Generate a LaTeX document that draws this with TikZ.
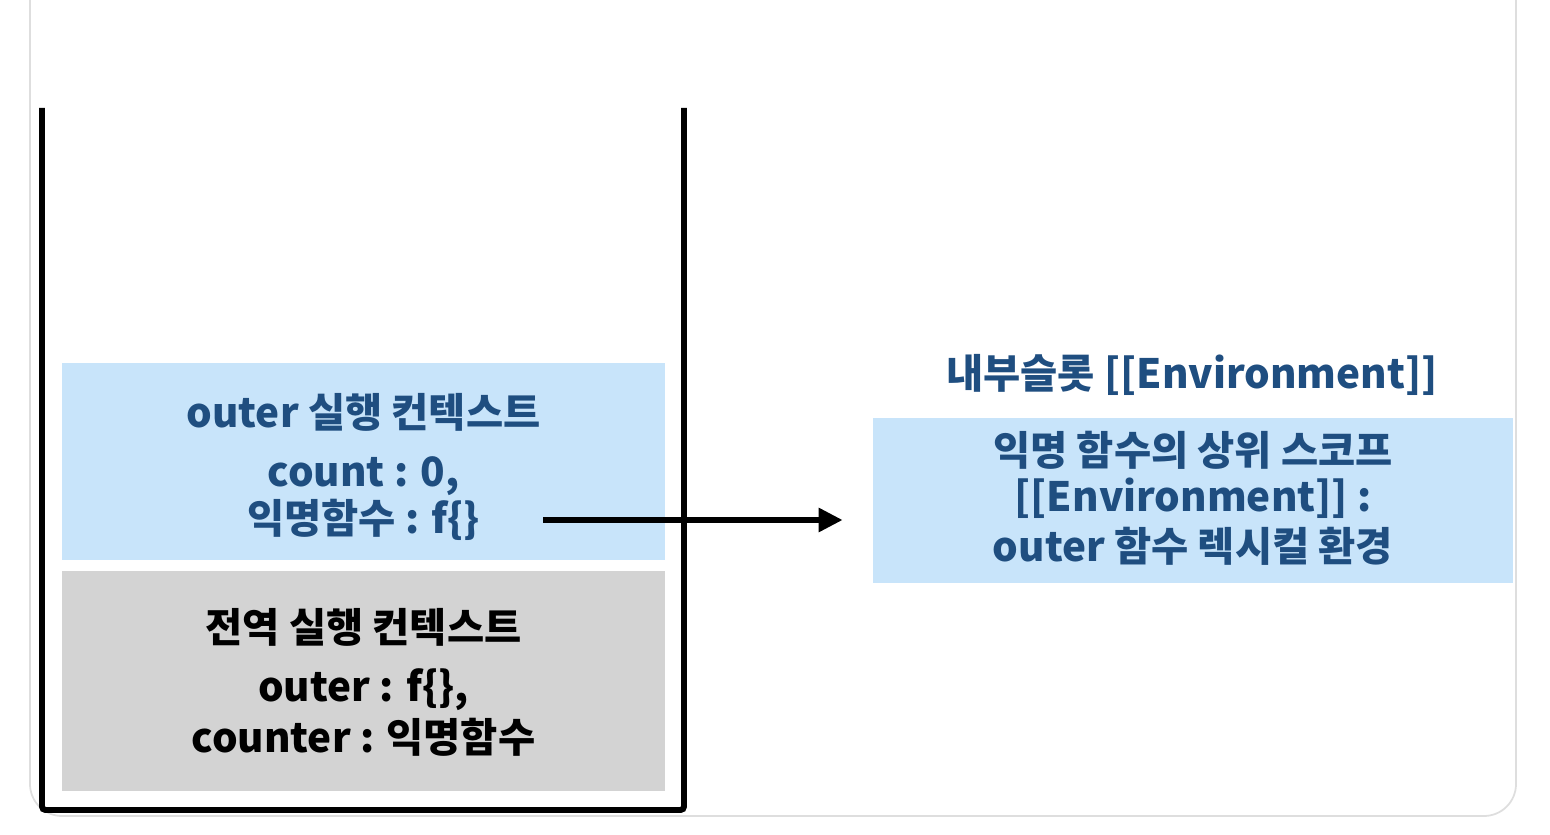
\documentclass[tikz,border=0pt]{standalone}
\usepackage{fontspec}
\setmainfont{Noto Sans CJK KR}
\usepackage{tikz}
\usetikzlibrary{
  arrows.meta,
  positioning
}
\definecolor{ctxblue}{RGB}{200,228,250}
\definecolor{ctxnavy}{RGB}{31,78,128}
\definecolor{ctxgray}{RGB}{211,211,211}
\definecolor{cardline}{RGB}{222,222,222}
\tikzset{
  ctxbox/.style={
    rectangle, draw=none, fill=ctxblue,
    minimum width=12.06cm, minimum height=3.94cm
  },
  globalbox/.style={
    ctxbox, fill=ctxgray, minimum height=4.4cm
  },
  envbox/.style={
    ctxbox, minimum width=12.8cm, minimum height=3.3cm
  },
  blabel/.style={
    text=ctxnavy, inner sep=1pt,
    font=\bfseries\fontsize{23}{27}\selectfont
  },
  glabel/.style={
    blabel, text=black
  }
}

\begin{document}
\begin{tikzpicture}[
  wall/.style={line width=3.4pt, black, rounded corners=2pt},
  card/.style={draw=cardline, line width=1pt, rounded corners=0.64cm},
  ptr/.style={-{Triangle[length=0.48cm,width=0.46cm]}, line width=3.3pt, black}
]
\useasboundingbox (0,0) rectangle (31,16.68);
\draw[card] (0.6,16.68) -- (0.6,0.36) -- (30.32,0.36) -- (30.32,16.68);

% call stack
\node[ctxbox]    (outerctx)    at (7.27,7.45) {};
\node[blabel]    (outertitle)  at (7.27,8.44) {outer 실행 컨텍스트};
\node[blabel]    (countvar)    at (7.27,7.16) {count : 0,};
\node[blabel]    (anonfn)      at (7.27,6.28) {익명함수 : f\{\}};
\node[globalbox] (globalctx)   at (7.27,3.06) {};
\node[glabel]    (globaltitle) at (7.27,4.14) {전역 실행 컨텍스트};
\node[glabel]    (outervar)    at (7.27,2.88) {outer : f\{\},};
\node[glabel]    (countervar)  at (7.27,1.94) {counter : 익명함수};
\draw[wall] (0.84,14.52) -- (0.84,0.48) -- (13.68,0.48) -- (13.68,14.52);

% internal slot
\node[blabel] (slottitle) at (23.84,9.18) {내부슬롯 [[Environment]]};
\node[envbox] (envslot)   at (23.86,6.67) {};
\node[blabel] (scopeline) at (23.86,7.68) {익명 함수의 상위 스코프};
\node[blabel] (envline)   at (23.86,6.72) {[[Environment]] :};
\node[blabel] (lexline)   at (23.86,5.76) {outer 함수 렉시컬 환경};

\draw[ptr] ([xshift=3.59cm]anonfn.center) -- ([xshift=-0.6cm]anonfn.center -| envslot.west);
\end{tikzpicture}
\end{document}
